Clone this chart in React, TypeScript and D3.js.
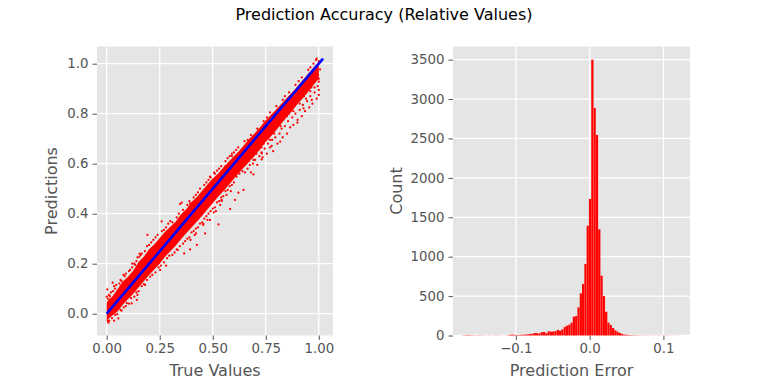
import { useEffect, useRef } from "react";
import * as d3 from "d3";

// dense core of the scatter: true value, lowest and highest prediction
const bandTrue = [0, 0.012, 0.025, 0.05, 0.075, 0.1, 0.125, 0.15, 0.175, 0.2, 0.225, 0.25, 0.275, 0.3, 0.325, 0.35, 0.375, 0.4, 0.425, 0.45, 0.475, 0.5, 0.525, 0.55, 0.575, 0.6, 0.625, 0.65, 0.675, 0.7, 0.725, 0.75, 0.775, 0.8, 0.825, 0.85, 0.875, 0.9, 0.925, 0.95, 0.975, 1.0];
const bandLow = [-0.03, -0.018, -0.008, 0.008, 0.035, 0.058, 0.08, 0.105, 0.13, 0.155, 0.178, 0.2, 0.228, 0.25, 0.272, 0.298, 0.322, 0.345, 0.368, 0.392, 0.418, 0.442, 0.468, 0.49, 0.515, 0.54, 0.565, 0.588, 0.612, 0.635, 0.66, 0.688, 0.71, 0.735, 0.762, 0.788, 0.812, 0.84, 0.862, 0.888, 0.915, 0.94];
const bandHigh = [0.045, 0.06, 0.067, 0.097, 0.128, 0.148, 0.172, 0.207, 0.228, 0.258, 0.278, 0.303, 0.328, 0.348, 0.368, 0.398, 0.418, 0.447, 0.467, 0.492, 0.517, 0.541, 0.56, 0.585, 0.608, 0.63, 0.652, 0.677, 0.702, 0.724, 0.748, 0.774, 0.796, 0.818, 0.841, 0.864, 0.886, 0.91, 0.935, 0.96, 0.985, 1.005];

// far outliers
const outlierPoints = [[0.692, 0.557], [0.899, 0.764], [1.0, 0.895], [1.0, 0.928], [0.987, 1.015], [1.006, 0.977], [0.967, 0.855], [0.928, 0.821], [0.731, 0.617], [0.731, 0.641], [0.818, 0.688], [0.778, 0.671], [0.77, 0.695], [0.692, 0.615], [0.645, 0.495], [0.621, 0.484], [0.582, 0.419], [0.542, 0.455], [0.487, 0.548], [0.506, 0.564], [0.346, 0.439], [0.354, 0.444], [0.393, 0.441], [0.597, 0.621], [0.59, 0.631], [0.558, 0.588], [0.192, 0.315], [0.259, 0.369], [0.393, 0.257], [0.527, 0.357], [0.605, 0.455], [0.542, 0.451], [0.487, 0.375], [0.456, 0.359], [0.425, 0.275], [0.464, 0.321], [0.421, 0.321], [0.365, 0.241], [0.33, 0.257], [0.28, 0.192], [0.252, 0.175], [0.134, 0.195], [0.154, 0.228], [0.079, 0.155], [0.028, 0.124], [0.003, 0.097], [0, 0.068], [0.055, -0.019], [0.035, -0.028], [0.008, -0.036], [0.118, 0.041], [0.142, 0.055], [0.181, 0.115]];

// speckle along the upper half of the band, below and above the core
const upperPoints = [[0.605, 0.56], [0.612, 0.548], [0.618, 0.575], [0.626, 0.56], [0.633, 0.585], [0.64, 0.57], [0.645, 0.592], [0.652, 0.565], [0.658, 0.6], [0.664, 0.58], [0.67, 0.61], [0.675, 0.595], [0.68, 0.565], [0.686, 0.625], [0.69, 0.6], [0.695, 0.635], [0.7, 0.615], [0.706, 0.64], [0.71, 0.595], [0.716, 0.655], [0.72, 0.63], [0.726, 0.67], [0.73, 0.645], [0.735, 0.625], [0.74, 0.68], [0.745, 0.66], [0.75, 0.695], [0.755, 0.64], [0.76, 0.68], [0.765, 0.71], [0.77, 0.665], [0.775, 0.725], [0.78, 0.695], [0.785, 0.65], [0.79, 0.735], [0.795, 0.705], [0.8, 0.745], [0.805, 0.68], [0.81, 0.755], [0.815, 0.72], [0.82, 0.77], [0.825, 0.74], [0.83, 0.705], [0.835, 0.78], [0.84, 0.75], [0.845, 0.795], [0.85, 0.72], [0.855, 0.77], [0.86, 0.8], [0.865, 0.745], [0.87, 0.815], [0.875, 0.785], [0.88, 0.755], [0.885, 0.83], [0.89, 0.8], [0.895, 0.84], [0.9, 0.775], [0.905, 0.85], [0.91, 0.815], [0.915, 0.86], [0.92, 0.79], [0.925, 0.835], [0.93, 0.87], [0.935, 0.81], [0.94, 0.885], [0.945, 0.85], [0.95, 0.895], [0.955, 0.825], [0.96, 0.87], [0.965, 0.905], [0.97, 0.84], [0.975, 0.925], [0.98, 0.885], [0.985, 0.94], [0.99, 0.86], [0.995, 0.91], [0.997, 0.955], [1.0, 0.875], [1.0, 0.94], [0.992, 0.965], [0.98, 0.905], [0.96, 0.89], [0.94, 0.86], [0.91, 0.84], [0.88, 0.81], [0.85, 0.79], [0.82, 0.75], [0.79, 0.72], [0.76, 0.7], [0.73, 0.665], [0.7, 0.645], [0.67, 0.625], [0.62, 0.665], [0.65, 0.69], [0.68, 0.715], [0.71, 0.74], [0.74, 0.77], [0.77, 0.805], [0.8, 0.83], [0.83, 0.855], [0.86, 0.885], [0.89, 0.915], [0.92, 0.945], [0.95, 0.975], [0.975, 1.0], [0.99, 1.02], [1.0, 1.01], [0.96, 0.985], [0.905, 0.93], [0.84, 0.87], [0.755, 0.785], [0.665, 0.695]];

// speckle along the middle of the band
const middlePoints = [[0.31, 0.235], [0.32, 0.245], [0.335, 0.255], [0.345, 0.27], [0.36, 0.28], [0.37, 0.29], [0.38, 0.3], [0.39, 0.305], [0.4, 0.325], [0.41, 0.33], [0.42, 0.34], [0.43, 0.345], [0.44, 0.36], [0.45, 0.365], [0.46, 0.38], [0.47, 0.39], [0.48, 0.4], [0.49, 0.41], [0.5, 0.42], [0.51, 0.425], [0.52, 0.445], [0.53, 0.45], [0.54, 0.465], [0.55, 0.47], [0.56, 0.49], [0.57, 0.495], [0.58, 0.51], [0.59, 0.515], [0.6, 0.525], [0.505, 0.405], [0.515, 0.41], [0.535, 0.435], [0.565, 0.475], [0.585, 0.49], [0.455, 0.355], [0.475, 0.375], [0.395, 0.295], [0.415, 0.315], [0.31, 0.365], [0.33, 0.385], [0.34, 0.4], [0.36, 0.415], [0.38, 0.435], [0.39, 0.45], [0.41, 0.465], [0.43, 0.485], [0.44, 0.5], [0.46, 0.515], [0.48, 0.535], [0.49, 0.545], [0.51, 0.56], [0.53, 0.58], [0.54, 0.59], [0.56, 0.61], [0.58, 0.63], [0.59, 0.64], [0.6, 0.645], [0.61, 0.655], [0.47, 0.525], [0.52, 0.572], [0.57, 0.622], [0.42, 0.475]];

// speckle along the lower part of the band
const lowerPoints = [[0.005, 0.06], [0.01, 0.075], [0.015, 0.07], [0.02, 0.085], [0.03, 0.09], [0.04, 0.1], [0.045, 0.115], [0.06, 0.12], [0.065, 0.135], [0.07, 0.13], [0.085, 0.15], [0.09, 0.16], [0.105, 0.17], [0.11, 0.175], [0.12, 0.185], [0.13, 0.2], [0.14, 0.21], [0.145, 0.225], [0.16, 0.235], [0.165, 0.24], [0.18, 0.25], [0.19, 0.27], [0.2, 0.275], [0.21, 0.285], [0.22, 0.295], [0.23, 0.305], [0.24, 0.315], [0.26, 0.33], [0.27, 0.335], [0.28, 0.345], [0.29, 0.36], [0.3, 0.37], [0.12, 0.2], [0.155, 0.24], [0.035, 0.11], [0.005, -0.03], [0.012, -0.028], [0.025, -0.018], [0.04, -0.005], [0.05, -0.002], [0.065, 0.015], [0.08, 0.025], [0.095, 0.042], [0.105, 0.04], [0.115, 0.062], [0.13, 0.068], [0.14, 0.085], [0.15, 0.09], [0.165, 0.11], [0.175, 0.118], [0.19, 0.135], [0.205, 0.148], [0.215, 0.155], [0.23, 0.165], [0.245, 0.185], [0.255, 0.192], [0.27, 0.205], [0.285, 0.222], [0.295, 0.232], [0.145, 0.075], [0.09, 0.03], [0.07, 0.012]];

const lineEnds = [0, 1.02];

// histogram, 94 equal bins starting at binStart
const binStart = -0.1726;
const binWidth = 0.00312;
const counts = [3, 4, 5, 4, 3, 2, 2, 3, 2, 2, 1, 2, 1, 1, 2, 2, 1, 1, 1, 2, 6, 12, 8, 5, 6, 8, 10, 12, 15, 20, 22, 32, 30, 25, 42, 45, 30, 54, 50, 52, 55, 72, 61, 78, 108, 125, 137, 163, 239, 247, 358, 535, 654, 907, 1393, 1732, 3500, 2887, 2545, 1349, 760, 501, 302, 163, 133, 95, 66, 48, 32, 19, 12, 8, 6, 4, 3, 3, 2, 2, 1, 2, 1, 1, 2, 1, 1, 2, 1, 1, 1, 2, 1, 1, 1, 1];

const leftXTicks = [0, 0.25, 0.5, 0.75, 1];
const leftYTicks = [0, 0.2, 0.4, 0.6, 0.8, 1];
const rightXTicks = [-0.1, 0, 0.1];
const rightYTicks = [0, 500, 1000, 1500, 2000, 2500, 3000, 3500];

const font = "'DejaVu Sans', sans-serif";
const inkColor = "#555555";

function renderPanel(svg, box, x, y, xTicks, yTicks, xFormat, yFormat, xLabel, yLabel, yLabelX) {
  svg
    .append("rect")
    .attr("x", box.left)
    .attr("y", box.top)
    .attr("width", box.right - box.left)
    .attr("height", box.bottom - box.top)
    .attr("fill", "#E5E5E5");

  // white grid
  svg
    .selectAll(null)
    .data(xTicks)
    .join("line")
    .attr("x1", (d) => x(d))
    .attr("x2", (d) => x(d))
    .attr("y1", box.top)
    .attr("y2", box.bottom)
    .attr("stroke", "#fff")
    .attr("stroke-width", 1.3);
  svg
    .selectAll(null)
    .data(yTicks)
    .join("line")
    .attr("x1", box.left)
    .attr("x2", box.right)
    .attr("y1", (d) => y(d))
    .attr("y2", (d) => y(d))
    .attr("stroke", "#fff")
    .attr("stroke-width", 1.3);

  const xAxis = svg
    .append("g")
    .attr("transform", `translate(0,${box.bottom})`)
    .call(d3.axisBottom(x).tickValues(xTicks).tickFormat(xFormat).tickSize(4.5).tickPadding(4));
  const yAxis = svg
    .append("g")
    .attr("transform", `translate(${box.left},0)`)
    .call(d3.axisLeft(y).tickValues(yTicks).tickFormat(yFormat).tickSize(4.5).tickPadding(4));

  [xAxis, yAxis].forEach((axis) => {
    axis.select(".domain").remove();
    axis.selectAll("line").attr("stroke", inkColor).attr("stroke-width", 1);
    axis.selectAll("text").attr("fill", inkColor).style("font-family", font).style("font-size", "13.33px");
  });

  svg
    .append("text")
    .attr("x", (box.left + box.right) / 2)
    .attr("y", 376)
    .attr("text-anchor", "middle")
    .attr("fill", inkColor)
    .style("font-family", font)
    .style("font-size", "16px")
    .text(xLabel);
  svg
    .append("text")
    .attr("transform", `translate(${yLabelX},${(box.top + box.bottom) / 2}) rotate(-90)`)
    .attr("text-anchor", "middle")
    .attr("fill", inkColor)
    .style("font-family", font)
    .style("font-size", "16px")
    .text(yLabel);
}

function renderCharts(element) {
  const svg = d3
    .select(element)
    .append("svg")
    .attr("width", 768)
    .attr("height", 384)
    .style("position", "absolute")
    .style("left", 0)
    .style("top", 0);

  svg
    .append("text")
    .attr("x", 384)
    .attr("y", 20)
    .attr("text-anchor", "middle")
    .attr("fill", "#000")
    .style("font-family", font)
    .style("font-size", "16px")
    .text("Prediction Accuracy (Relative Values)");

  // left panel
  const leftBox = { left: 97, right: 333, top: 46.5, bottom: 335.5 };
  const x1 = d3.scaleLinear().domain([-0.0458, 1.067]).range([leftBox.left, leftBox.right]);
  const y1 = d3.scaleLinear().domain([-0.0872, 1.0688]).range([leftBox.bottom, leftBox.top]);
  renderPanel(svg, leftBox, x1, y1, leftXTicks, leftYTicks, d3.format(".2f"), d3.format(".1f"), "True Values", "Predictions", 57);

  const band = d3
    .area()
    .x((d) => x1(bandTrue[d]))
    .y0((d) => y1(bandLow[d]))
    .y1((d) => y1(bandHigh[d]));
  svg.append("path").attr("d", band(d3.range(bandTrue.length))).attr("fill", "#ff0000");

  svg
    .selectAll(null)
    .data([...outlierPoints, ...upperPoints, ...middlePoints, ...lowerPoints])
    .join("circle")
    .attr("cx", (d) => x1(d[0]))
    .attr("cy", (d) => y1(d[1]))
    .attr("r", 1.1)
    .attr("fill", "#ff0000");

  svg
    .append("line")
    .attr("x1", x1(lineEnds[0]))
    .attr("y1", y1(lineEnds[0]))
    .attr("x2", x1(lineEnds[1]))
    .attr("y2", y1(lineEnds[1]))
    .attr("stroke", "#0000ff")
    .attr("stroke-width", 2.6);

  // right panel
  const rightBox = { left: 453, right: 690, top: 46.5, bottom: 335.5 };
  const x2 = d3.scaleLinear().domain([-0.1852, 0.136]).range([rightBox.left, rightBox.right]);
  const y2 = d3.scaleLinear().domain([0, 3667]).range([rightBox.bottom, rightBox.top]);
  renderPanel(svg, rightBox, x2, y2, rightXTicks, rightYTicks, d3.format(".1f"), d3.format("d"), "Prediction Error", "Count", 402);

  svg
    .selectAll(null)
    .data(counts)
    .join("rect")
    .attr("x", (d, i) => x2(binStart + i * binWidth))
    .attr("y", (d) => y2(d))
    .attr("width", x2(binWidth) - x2(0))
    .attr("height", (d) => y2(0) - y2(d))
    .attr("fill", "#ff0000")
    .attr("stroke", "#fff")
    .attr("stroke-opacity", 0.2)
    .attr("stroke-width", 0.3);
}

export default function App() {
  const chartRef = useRef(null);
  useEffect(() => {
    if (chartRef.current && !chartRef.current.firstChild) {
      renderCharts(chartRef.current);
    }
  }, []);
  return <div ref={chartRef}></div>;
}
